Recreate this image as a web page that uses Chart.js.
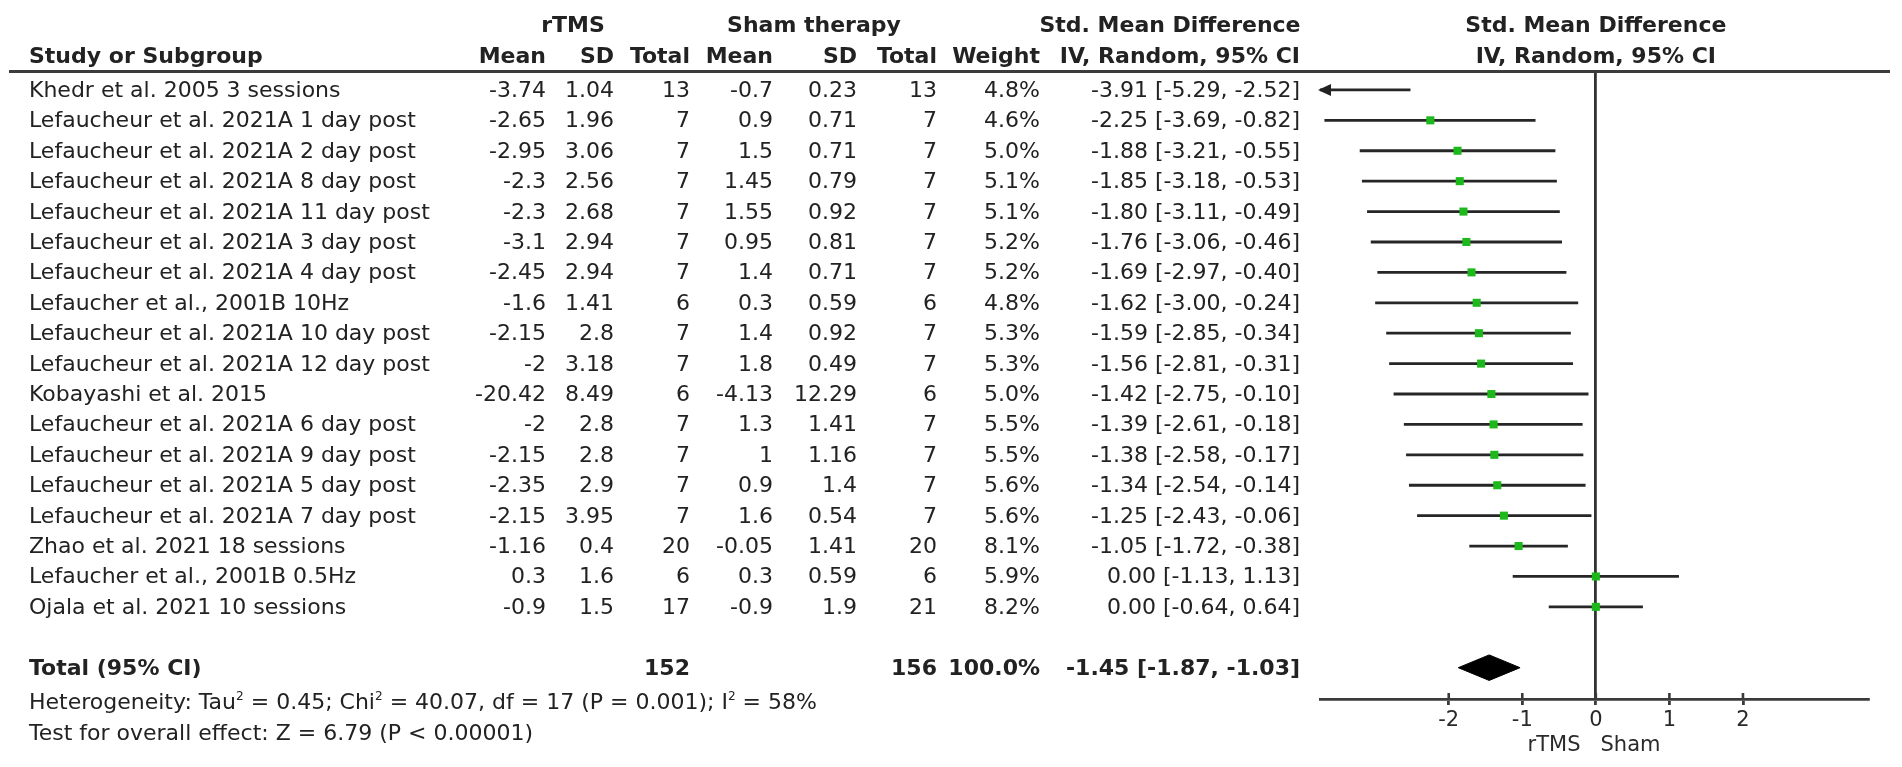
<!DOCTYPE html>
<html>
<head>
<meta charset="utf-8">
<script src="https://cdn.jsdelivr.net/npm/chart.js@4.4.1/dist/chart.umd.min.js"></script>
<style>
  html, body { margin:0; padding:0; background:#fff; }
  body { width:1902px; height:767px; position:relative; overflow:hidden;
         font-family:"DejaVu Sans", sans-serif; font-size:22px; color:#222; }
  #wrap { position:absolute; left:0; top:0; width:1902px; height:767px; }
  canvas { position:absolute; left:0; top:0; }
  .t { position:absolute; white-space:pre; line-height:1; }
  .b { font-weight:bold; }
  sup { font-size:0.55em; vertical-align:0.75em; line-height:0; }
  #hline { position:absolute; left:9px; top:70px; width:1881px; height:3px; background:#3c3c3c; }
</style>
</head>
<body>
<div id="wrap">
  <canvas id="c" width="1902" height="767"></canvas>
  <div id="hline"></div>
  <div id="txt"></div>
</div>
<script>
// ---------------- DATA ----------------
const studies = [
  "Khedr et al. 2005 3 sessions",
  "Lefaucheur et al. 2021A 1 day post",
  "Lefaucheur et al. 2021A 2 day post",
  "Lefaucheur et al. 2021A 8 day post",
  "Lefaucheur et al. 2021A 11 day post",
  "Lefaucheur et al. 2021A 3 day post",
  "Lefaucheur et al. 2021A 4 day post",
  "Lefaucher et al., 2001B 10Hz",
  "Lefaucheur et al. 2021A 10 day post",
  "Lefaucheur et al. 2021A 12 day post",
  "Kobayashi et al. 2015",
  "Lefaucheur et al. 2021A 6 day post",
  "Lefaucheur et al. 2021A 9 day post",
  "Lefaucheur et al. 2021A 5 day post",
  "Lefaucheur et al. 2021A 7 day post",
  "Zhao et al. 2021 18 sessions",
  "Lefaucher et al., 2001B 0.5Hz",
  "Ojala et al. 2021 10 sessions"
];
const rtmsMean = [-3.74,-2.65,-2.95,-2.3,-2.3,-3.1,-2.45,-1.6,-2.15,-2,-20.42,-2,-2.15,-2.35,-2.15,-1.16,0.3,-0.9];
const rtmsSD   = [1.04,1.96,3.06,2.56,2.68,2.94,2.94,1.41,2.8,3.18,8.49,2.8,2.8,2.9,3.95,0.4,1.6,1.5];
const rtmsN    = [13,7,7,7,7,7,7,6,7,7,6,7,7,7,7,20,6,17];
const shamMean = [-0.7,0.9,1.5,1.45,1.55,0.95,1.4,0.3,1.4,1.8,-4.13,1.3,1,0.9,1.6,-0.05,0.3,-0.9];
const shamSD   = [0.23,0.71,0.71,0.79,0.92,0.81,0.71,0.59,0.92,0.49,12.29,1.41,1.16,1.4,0.54,1.41,0.59,1.9];
const shamN    = [13,7,7,7,7,7,7,6,7,7,6,7,7,7,7,20,6,21];
const weights  = [4.8,4.6,5.0,5.1,5.1,5.2,5.2,4.8,5.3,5.3,5.0,5.5,5.5,5.6,5.6,8.1,5.9,8.2];
const smd      = [-3.91,-2.25,-1.88,-1.85,-1.80,-1.76,-1.69,-1.62,-1.59,-1.56,-1.42,-1.39,-1.38,-1.34,-1.25,-1.05,0.00,0.00];
const ciLow    = [-5.29,-3.69,-3.21,-3.18,-3.11,-3.06,-2.97,-3.00,-2.85,-2.81,-2.75,-2.61,-2.58,-2.54,-2.43,-1.72,-1.13,-0.64];
const ciHigh   = [-2.52,-0.82,-0.55,-0.53,-0.49,-0.46,-0.40,-0.24,-0.34,-0.31,-0.10,-0.18,-0.17,-0.14,-0.06,-0.38,1.13,0.64];
const totalRtmsN = 152;
const totalShamN = 156;
const totalWeight = 100.0;
const totalSmd = -1.45;
const totalLow = -1.87;
const totalHigh = -1.03;
const xTicks = [-2, -1, 0, 1, 2];
const favoursLeft = "rTMS";
const favoursRight = "Sham";

// ---------------- CHART ----------------
const totalRow = studies.length + 1;
const diamondHalf = 0.42;

const ciLineData = [];
studies.forEach((s, i) => {
  ciLineData.push({x: ciLow[i], y: i}, {x: ciHigh[i], y: i}, {x: NaN, y: NaN});
});
const pointData = smd.map((v, i) => ({x: v, y: i}));
const diamondData = [
  {x: totalLow, y: totalRow},
  {x: totalSmd, y: totalRow - diamondHalf},
  {x: totalHigh, y: totalRow},
  {x: totalSmd, y: totalRow + diamondHalf},
  {x: totalLow, y: totalRow}
];

const extrasPlugin = {
  id: 'extras',
  afterDatasetsDraw(chart) {
    const xs = chart.scales.x, ys = chart.scales.y, ctx = chart.ctx;
    ctx.save();
    ctx.fillStyle = '#222';
    studies.forEach((s, i) => {
      const y = ys.getPixelForValue(i);
      if (ciLow[i] < xs.min) {
        const x = xs.left;
        ctx.beginPath();
        ctx.moveTo(x - 2, y);
        ctx.lineTo(x + 11, y - 6);
        ctx.lineTo(x + 11, y + 6);
        ctx.closePath();
        ctx.fill();
      }
      if (ciHigh[i] > xs.max) {
        const x = xs.right;
        ctx.beginPath();
        ctx.moveTo(x + 2, y);
        ctx.lineTo(x - 11, y - 6);
        ctx.lineTo(x - 11, y + 6);
        ctx.closePath();
        ctx.fill();
      }
    });
    // upward part of the axis tick marks (ticks cross the axis line)
    ctx.strokeStyle = '#3a3a3a';
    ctx.lineWidth = 2.6;
    xTicks.forEach(v => {
      const x = xs.getPixelForValue(v);
      ctx.beginPath();
      ctx.moveTo(x, xs.top);
      ctx.lineTo(x, xs.top - 6);
      ctx.stroke();
    });
    ctx.restore();
  }
};

const chart = new Chart(document.getElementById('c'), {
  type: 'scatter',
  data: {
    datasets: [
      {
        type: 'line', data: ciLineData, borderColor: '#262626', borderWidth: 2.8,
        pointRadius: 0, spanGaps: false, fill: false, clip: 0, order: 3
      },
      {
        type: 'scatter', data: pointData, pointStyle: 'rect', pointRadius: 5.7,
        backgroundColor: '#1cb81c', borderWidth: 0, clip: 0, order: 1
      },
      {
        type: 'line', data: diamondData, borderColor: '#000', backgroundColor: '#000',
        borderWidth: 1, pointRadius: 0, fill: 'shape', tension: 0, order: 2
      }
    ]
  },
  options: {
    responsive: false,
    animation: false,
    devicePixelRatio: 1,
    layout: { padding: { left: 1320, right: 34, top: 72, bottom: 0 } },
    plugins: { legend: { display: false }, tooltip: { enabled: false } },
    scales: {
      x: {
        type: 'linear', min: -3.75, max: 3.7,
        afterBuildTicks: s => { s.ticks = xTicks.map(v => ({value: v})); },
        afterFit: s => { s.height = 68; },
        grid: {
          drawOnChartArea: true, drawTicks: true, tickLength: 6,
          color: c => (c.tick && c.tick.value === 0) ? '#333' : 'rgba(0,0,0,0)',
          tickColor: '#3a3a3a', lineWidth: 2.8
        },
        border: { display: true, color: '#3a3a3a', width: 2.8 },
        ticks: {
          font: { family: 'DejaVu Sans', size: 21 }, color: '#2a2a2a', padding: 3,
          callback: v => String(v)
        },
        title: {
          display: true, text: favoursLeft + '   ' + favoursRight,
          font: { family: 'DejaVu Sans', size: 21 }, color: '#2a2a2a',
          padding: { top: 0, bottom: 9 }
        }
      },
      y: {
        type: 'linear', reverse: true, min: -0.59, max: 20.03, display: false
      }
    }
  },
  plugins: [extrasPlugin]
});

// ---------------- TABLE TEXT ----------------
const txt = document.getElementById('txt');
function put(html, x, y, align, bold) {
  const d = document.createElement('div');
  d.className = 't' + (bold ? ' b' : '');
  d.innerHTML = html;
  d.style.left = x + 'px';
  d.style.top = y + 'px';
  const tx = align === 'right' ? '-100%' : (align === 'center' ? '-50%' : '0');
  d.style.transform = 'translate(' + tx + ',-50%)';
  txt.appendChild(d);
}
const fmt2 = v => v.toFixed(2);
const ci = (e, l, h) => fmt2(e) + ' [' + fmt2(l) + ', ' + fmt2(h) + ']';

const colRight = [546, 614, 690, 773, 857, 937, 1040, 1300];
const xStudy = 29;
const yH1 = 25, yH2 = 56;
const plotCenter = chart.scales.x.getPixelForValue(0);

// headers
put('rTMS', 573, yH1, 'center', true);
put('Sham therapy', 814, yH1, 'center', true);
put('Std. Mean Difference', 1170, yH1, 'center', true);
put('Std. Mean Difference', plotCenter, yH1, 'center', true);
put('Study or Subgroup', xStudy, yH2, 'left', true);
['Mean', 'SD', 'Total', 'Mean', 'SD', 'Total', 'Weight', 'IV, Random, 95% CI'].forEach((h, k) => {
  put(h, colRight[k], yH2, 'right', true);
});
put('IV, Random, 95% CI', plotCenter, yH2, 'center', true);

// rows
const ys = chart.scales.y;
studies.forEach((s, i) => {
  const y = ys.getPixelForValue(i);
  put(s, xStudy, y, 'left', false);
  const vals = [String(rtmsMean[i]), String(rtmsSD[i]), String(rtmsN[i]),
                String(shamMean[i]), String(shamSD[i]), String(shamN[i]),
                weights[i].toFixed(1) + '%', ci(smd[i], ciLow[i], ciHigh[i])];
  vals.forEach((v, k) => put(v, colRight[k], y, 'right', false));
});

// total
const yT = ys.getPixelForValue(totalRow);
put('Total (95% CI)', xStudy, yT, 'left', true);
put(String(totalRtmsN), colRight[2], yT, 'right', true);
put(String(totalShamN), colRight[5], yT, 'right', true);
put(totalWeight.toFixed(1) + '%', colRight[6], yT, 'right', true);
put(ci(totalSmd, totalLow, totalHigh), colRight[7], yT, 'right', true);

put('Heterogeneity: Tau<sup>2</sup> = 0.45; Chi<sup>2</sup> = 40.07, df = 17 (P = 0.001); I<sup>2</sup> = 58%', xStudy, 702, 'left', false);
put('Test for overall effect: Z = 6.79 (P &lt; 0.00001)', xStudy, 733, 'left', false);
</script>
</body>
</html>
